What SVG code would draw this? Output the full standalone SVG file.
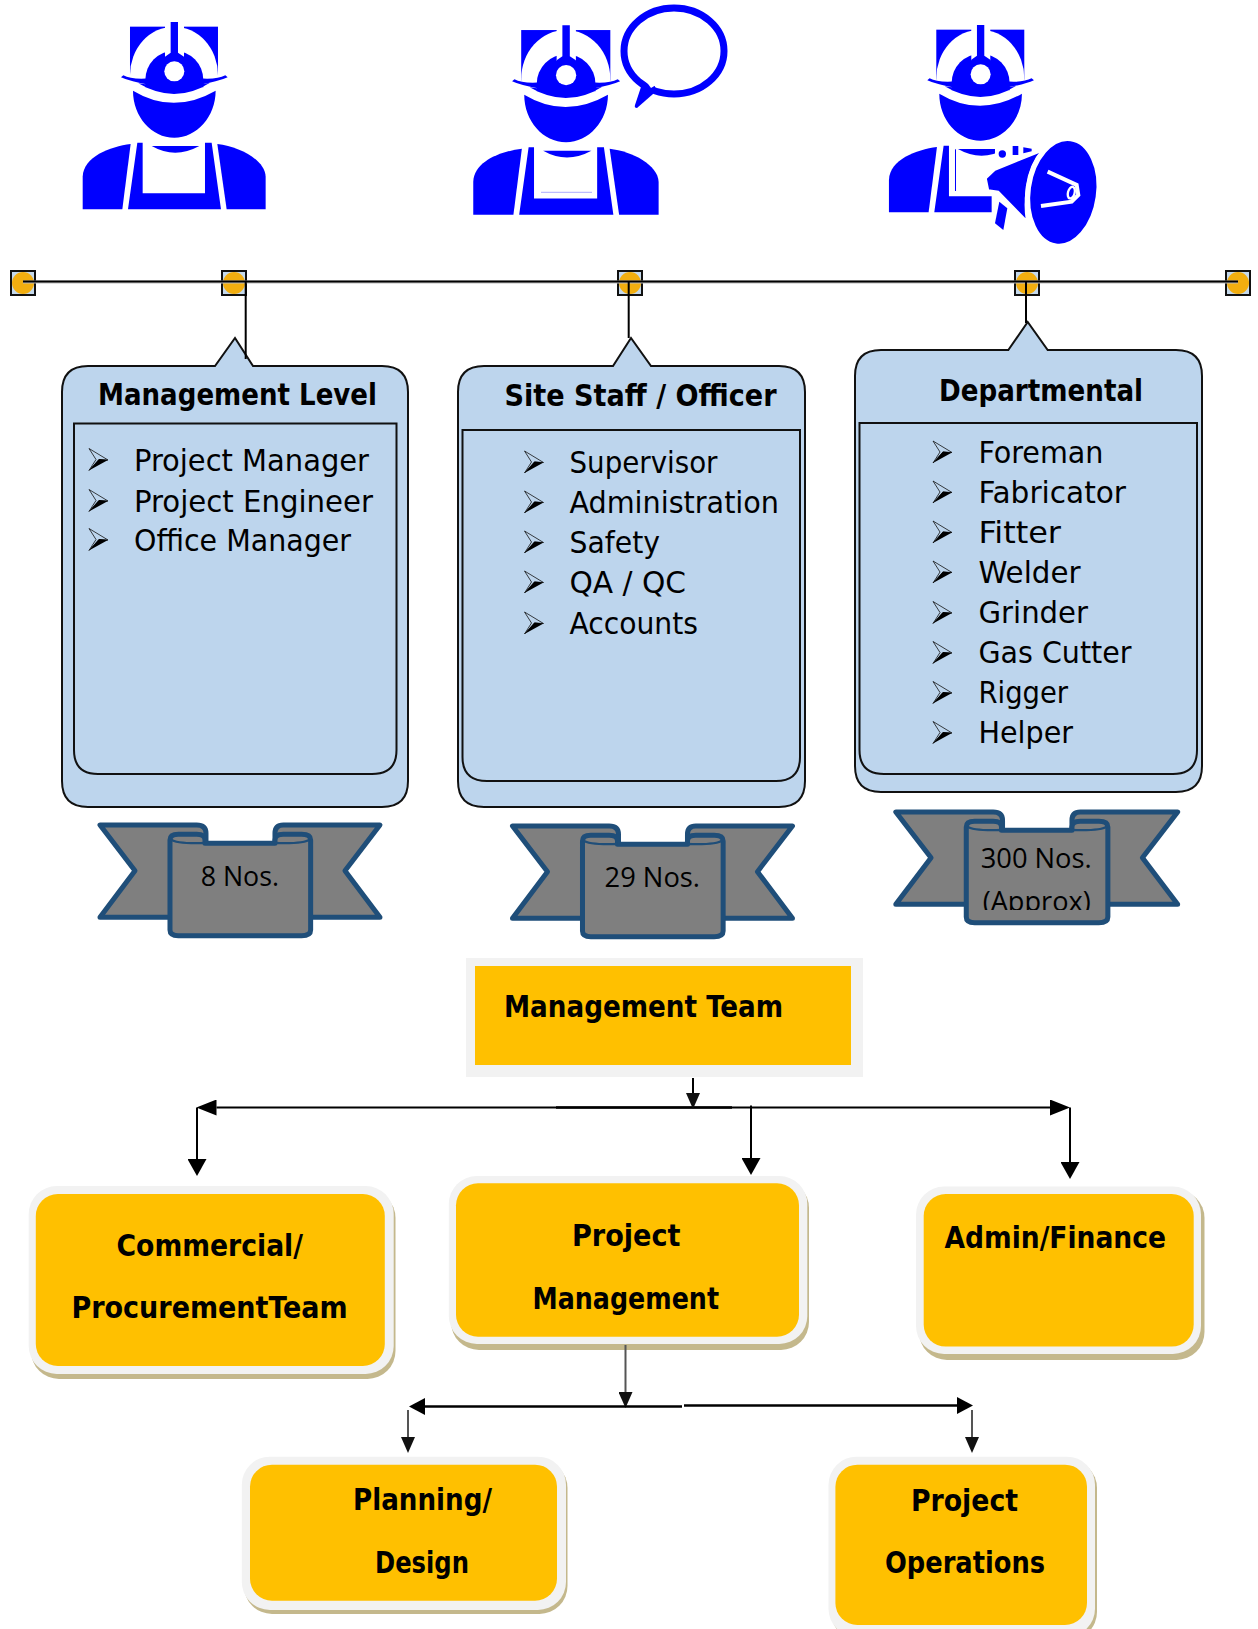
<svg xmlns="http://www.w3.org/2000/svg" xmlns:xlink="http://www.w3.org/1999/xlink" width="1258" height="1629" viewBox="0 0 1258 1629">
<style>
text{font-family:"DejaVu Sans","Noto Sans",sans-serif;font-stretch:condensed;fill:#000}
.t{font-size:30px;font-weight:700}
.b{font-size:30px}
.r{font-family:"Open Sans","Liberation Sans",sans-serif;font-size:28px;font-stretch:normal}
.blue{fill:#0000ff}
.wh{fill:#fff}
.call{fill:#bdd5ed;stroke:#111;stroke-width:2}
.rib{fill:#7f7f7f;stroke:#1f4e79;stroke-width:15;stroke-linejoin:round}
.sq{fill:#c5d9ec;stroke:#111;stroke-width:2}
.dot{fill:#f2ae10}
.outer{fill:#f2f2f2}
.shadow{fill:#c4b88c}
.inner{fill:#ffc000}
.ln{fill:none;stroke:#000;stroke-width:2}
.gl{fill:none;stroke:#555;stroke-width:2}
</style>
<defs>
<marker id="mh" markerUnits="userSpaceOnUse" markerWidth="20" markerHeight="16" refX="0" refY="8" orient="auto-start-reverse"><path d="M0,0L20,8L0,16Z"/></marker>
<marker id="mv" markerUnits="userSpaceOnUse" markerWidth="17" markerHeight="19" refX="0" refY="9.5" orient="auto"><path d="M0,0L17,9.5L0,19Z"/></marker>
<marker id="ms" markerUnits="userSpaceOnUse" markerWidth="16" markerHeight="14" refX="0" refY="7" orient="auto"><path d="M0,0L16,7L0,14Z" fill="#111"/></marker>
<marker id="mh2" markerUnits="userSpaceOnUse" markerWidth="16" markerHeight="17" refX="0" refY="8.5" orient="auto-start-reverse"><path d="M0,0L16,8.5L0,17Z"/></marker>
<g id="worker">
<rect class="blue" x="210" y="80" width="264" height="150"/>
<path class="wh" d="M210,225A132,145 0 0 1 474,225V236H210Z"/>
<path class="blue" d="M256,240A87,88 0 0 1 430,240V262H256Z"/>
<path class="wh" d="M315,66H372V172H315Z"/>
<path class="blue" d="M332,66H354V158L372,170V190H315V170L332,158Z"/>
<path class="blue" d="M272,225H414V255L450,248Q345,315 235,250L272,255Z"/>
<path class="blue" d="M183,232L190,226Q215,240 272,235V255Q210,245 183,232Z"/>
<path class="blue" d="M503,232L496,226Q470,240 414,235V255Q475,245 503,232Z"/>
<circle class="wh" cx="343" cy="214" r="30"/>
<path class="blue" d="M219,272Q340,345 467,272C467,350 410,413 343,413C275,413 219,350 219,272Z"/>
<path class="blue" d="M275,438H418Q345,478 275,438Z"/>
<path class="blue" d="M68,628V530C70,470 150,440 212,432L187,628Z"/>
<path class="blue" d="M232,428H248V580H435V428H455L483,628H204Z"/>
<path class="blue" d="M472,432C540,440 615,480 617,530V628H500Z"/>
</g>
<g id="bul"><path d="M0,0L19,11.500L10,11L0,22L7,11Z" fill="#fff" fill-opacity="0" stroke="#111" stroke-width="0.8"/><path d="M0,22L19,11.500L10,10.500Z" fill="#000"/></g>
<g id="ribbon">
<path class="rib" d="M150,135H440Q468,135 468,160V412H150L255,272Z"/>
<path class="rib" d="M990,135H700Q675,135 675,160V412H990L885,272Z"/>
<path class="rib" d="M360,180Q360,163 385,163H440Q465,163 465,180V190H675V180Q675,163 700,163H755Q782,163 782,180V450Q782,467 755,467H385Q360,467 360,450Z"/>
<path class="rib" style="fill:none;stroke-width:7" d="M362,178Q380,192 465,189M780,178Q762,192 675,189"/>
</g>
<clipPath id="clip3"><rect x="960" y="850" width="150" height="60"/></clipPath>
</defs>

<g id="worker-1"><use href="#worker" transform="translate(60,0) scale(.3333)"/></g>

<g id="worker-2">
<use href="#worker" transform="translate(450.300,3.100) scale(.3376,.3369)"/>
<path d="M541,192.300H592" stroke="#aaaaff" fill="none"/>
<ellipse cx="674" cy="51" rx="50" ry="43" fill="none" stroke="#0000ff" stroke-width="7"/>
<path class="blue" d="M642,84L635,105Q634,108 637,108L653,94L655,86Z"/>
<path class="wh" d="M646,81L651,88L656,85L650,79Z"/>
</g>

<g id="worker-3">
<use href="#worker" transform="translate(866.300,3) scale(.3333)"/>
<g transform="translate(860,0) scale(.3333)">
<rect class="wh" x="405" y="420" width="340" height="225"/>
<rect class="wh" x="395" y="490" width="30" height="150"/>
<rect class="blue" x="285" y="448" width="3" height="125"/>
<circle class="blue" cx="427" cy="462" r="11"/>
<rect class="blue" x="458" y="438" width="17" height="27"/>
<path class="blue" d="M490,442L515,446V454L490,460Z"/>
<path class="blue" d="M405,670L418,605L442,625L430,690Z"/>
<path class="blue" stroke="#fff" stroke-width="5" d="M548,452L405,510L378,535L385,570L415,575L500,662C490,600 500,500 548,452Z"/>
<ellipse cx="610" cy="577" rx="106" ry="163" transform="rotate(8 610 577)" class="blue" stroke="#fff" stroke-width="16"/>
<path d="M563,515L650,555L655,585L635,605L543,618" fill="none" stroke="#fff" stroke-width="12"/>
<ellipse cx="634" cy="578" rx="10" ry="18" fill="#0000ff" stroke="#fff" stroke-width="7" transform="rotate(15 634 578)"/>
</g>
</g>

<g id="timeline-markers">
<g><rect class="sq" x="11" y="271" width="24" height="24"/><circle class="dot" cx="23" cy="283" r="11"/></g>
<g><rect class="sq" x="222" y="271" width="24" height="24"/><circle class="dot" cx="234" cy="283" r="11"/></g>
<g><rect class="sq" x="618" y="271" width="24" height="24"/><circle class="dot" cx="630" cy="283" r="11"/></g>
<g><rect class="sq" x="1015" y="271" width="24" height="24"/><circle class="dot" cx="1027" cy="283" r="11"/></g>
<g><rect class="sq" x="1226" y="271" width="24" height="24"/><circle class="dot" cx="1238" cy="283" r="11"/></g>
</g>

<g id="management-level">
<path class="call" d="M88,366H215L235,338L253,366H382Q408,366 408,392V781Q408,807 382,807H88Q62,807 62,781V392Q62,366 88,366Z"/>
<path class="call" d="M74,423.500H396.500V750Q396.500,774 372,774H98Q74,774 74,750Z"/>
<text class="t" x="98" y="405" textLength="279" lengthAdjust="spacingAndGlyphs">Management Level</text>
<use href="#bul" x="89" y="448.500"/><text class="b" x="134" y="470.700" textLength="235" lengthAdjust="spacingAndGlyphs">Project Manager</text>
<use href="#bul" x="89" y="489.500"/><text class="b" x="134" y="511.700" textLength="239" lengthAdjust="spacingAndGlyphs">Project Engineer</text>
<use href="#bul" x="89" y="528.500"/><text class="b" x="134" y="550.700" textLength="217" lengthAdjust="spacingAndGlyphs">Office Manager</text>
</g>

<g id="site-staff">
<path class="call" d="M484,366H613L631,338L651,366H779Q805,366 805,392V781Q805,807 779,807H484Q458,807 458,781V392Q458,366 484,366Z"/>
<path class="call" d="M462.500,430H800V757Q800,781 776,781H487Q462.500,781 462.500,757Z"/>
<text class="t" x="504.500" y="406" textLength="272" lengthAdjust="spacingAndGlyphs">Site Staff / Officer</text>
<use href="#bul" x="524.500" y="451"/><text class="b" x="569.500" y="473" textLength="148" lengthAdjust="spacingAndGlyphs">Supervisor</text>
<use href="#bul" x="524.500" y="491"/><text class="b" x="569.500" y="513" textLength="209.500" lengthAdjust="spacingAndGlyphs">Administration</text>
<use href="#bul" x="524.500" y="531"/><text class="b" x="569.500" y="553" textLength="90.500" lengthAdjust="spacingAndGlyphs">Safety</text>
<use href="#bul" x="524.500" y="571"/><text class="b" x="569.500" y="593" textLength="116.500" lengthAdjust="spacingAndGlyphs">QA / QC</text>
<use href="#bul" x="524.500" y="612"/><text class="b" x="569.500" y="634" textLength="128.500" lengthAdjust="spacingAndGlyphs">Accounts</text>
</g>

<g id="departmental">
<path class="call" d="M881,350H1008.300L1027.700,322L1047.700,350H1176Q1202,350 1202,376V766Q1202,792 1176,792H881Q855,792 855,766V376Q855,350 881,350Z"/>
<path class="call" d="M859.500,423H1197V750Q1197,774 1173,774H884Q859.500,774 859.500,750Z"/>
<text class="t" x="939" y="401" textLength="204" lengthAdjust="spacingAndGlyphs">Departmental</text>
<use href="#bul" x="933" y="441"/><text class="b" x="978.500" y="462.500" textLength="125" lengthAdjust="spacingAndGlyphs">Foreman</text>
<use href="#bul" x="933" y="481"/><text class="b" x="978.500" y="502.500" textLength="147.500" lengthAdjust="spacingAndGlyphs">Fabricator</text>
<use href="#bul" x="933" y="521"/><text class="b" x="978.500" y="542.500" textLength="82.500" lengthAdjust="spacingAndGlyphs">Fitter</text>
<use href="#bul" x="933" y="561"/><text class="b" x="978.500" y="582.500" textLength="102" lengthAdjust="spacingAndGlyphs">Welder</text>
<use href="#bul" x="933" y="601.500"/><text class="b" x="978.500" y="623" textLength="109.500" lengthAdjust="spacingAndGlyphs">Grinder</text>
<use href="#bul" x="933" y="641.500"/><text class="b" x="978.500" y="663" textLength="153" lengthAdjust="spacingAndGlyphs">Gas Cutter</text>
<use href="#bul" x="933" y="681.500"/><text class="b" x="978.500" y="703" textLength="89.500" lengthAdjust="spacingAndGlyphs">Rigger</text>
<use href="#bul" x="933" y="721.500"/><text class="b" x="978.500" y="743" textLength="94.500" lengthAdjust="spacingAndGlyphs">Helper</text>
</g>

<g id="ribbon-8">
<use href="#ribbon" transform="translate(50,780) scale(.3333)"/>
<text class="r" x="200.700" y="885.700" textLength="78.300" lengthAdjust="spacingAndGlyphs">8 Nos.</text>
</g>
<g id="ribbon-29">
<use href="#ribbon" transform="translate(462.500,781) scale(.3333)"/>
<text class="r" x="604.600" y="887" textLength="95.400" lengthAdjust="spacingAndGlyphs">29 Nos.</text>
</g>
<g id="ribbon-300">
<use href="#ribbon" transform="translate(845.500,767) scale(.3355,.3333)"/>
<text class="r" x="980.700" y="868.300" textLength="111" lengthAdjust="spacingAndGlyphs">300 Nos.</text>
<g clip-path="url(#clip3)"><text class="r" x="982.700" y="911" textLength="108" lengthAdjust="spacingAndGlyphs">(Approx)</text></g>
</g>

<g id="management-team">
<rect class="outer" x="466" y="958" width="397" height="119"/>
<rect class="inner" x="475" y="966" width="376" height="99"/>
<text class="t" x="504" y="1016.500" textLength="279" lengthAdjust="spacingAndGlyphs">Management Team</text>
</g>

<g id="commercial">
<rect class="shadow" x="31" y="1190" width="364.500" height="189" rx="28"/>
<rect class="outer" x="28.700" y="1186" width="365" height="188" rx="28"/>
<rect class="inner" x="35.800" y="1194" width="349" height="172" rx="22"/>
<text class="t" x="116.500" y="1256" textLength="186.500" lengthAdjust="spacingAndGlyphs">Commercial/</text>
<text class="t" x="71.500" y="1318" textLength="276" lengthAdjust="spacingAndGlyphs">ProcurementTeam</text>
</g>
<g id="project-management">
<rect class="shadow" x="451" y="1180" width="358" height="170" rx="28"/>
<rect class="outer" x="448.800" y="1176" width="358.500" height="168" rx="28"/>
<rect class="inner" x="456" y="1183.300" width="343" height="153.400" rx="22"/>
<text class="t" x="572" y="1245.500" textLength="108.500" lengthAdjust="spacingAndGlyphs">Project</text>
<text class="t" x="532.500" y="1308.500" textLength="186.500" lengthAdjust="spacingAndGlyphs">Management</text>
</g>
<g id="admin-finance">
<rect class="shadow" x="919" y="1190" width="285.500" height="170" rx="28"/>
<rect class="outer" x="916" y="1186.600" width="285" height="167.400" rx="28"/>
<rect class="inner" x="923.700" y="1194" width="270" height="152.600" rx="22"/>
<text class="t" x="944.500" y="1248" textLength="221.500" lengthAdjust="spacingAndGlyphs">Admin/Finance</text>
</g>
<g id="planning-design">
<rect class="shadow" x="244" y="1460" width="323.500" height="154" rx="28"/>
<rect class="outer" x="241.800" y="1456.700" width="324.200" height="153.300" rx="28"/>
<rect class="inner" x="250" y="1464.700" width="307" height="136" rx="22"/>
<text class="t" x="353" y="1510" textLength="139" lengthAdjust="spacingAndGlyphs">Planning/</text>
<text class="t" x="375" y="1572.700" textLength="94" lengthAdjust="spacingAndGlyphs">Design</text>
</g>
<g id="project-operations">
<rect class="shadow" x="831" y="1460" width="266" height="180" rx="28"/>
<rect class="outer" x="828.500" y="1456.700" width="266.500" height="180" rx="28"/>
<rect class="inner" x="835.400" y="1464.700" width="251.600" height="160.300" rx="22"/>
<text class="t" x="911" y="1511" textLength="107" lengthAdjust="spacingAndGlyphs">Project</text>
<text class="t" x="885" y="1573.300" textLength="160" lengthAdjust="spacingAndGlyphs">Operations</text>
</g>

<g id="connectors">
<path d="M23,282H1238" fill="none" stroke="#bbb" stroke-width="3"/>
<path class="ln" d="M23,281.500H1238"/>
<path class="ln" d="M245.700,281.500V359M628.700,281.500V338M1026,281.500V323"/>
<path class="ln" d="M216.500,1107.500H1050" marker-start="url(#mh)" marker-end="url(#mh)"/>
<path class="ln" style="stroke-width:2.500" d="M556,1107.500H732"/>
<path class="ln" d="M197,1107.500V1159" marker-end="url(#mv)"/>
<path class="ln" d="M751,1105.500V1158" marker-end="url(#mv)"/>
<path class="ln" d="M1070,1107.500V1162" marker-end="url(#mv)"/>
<path class="ln" d="M693,1078V1093" marker-end="url(#ms)"/>
<path class="gl" d="M625.500,1345V1392" marker-end="url(#ms)"/>
<path class="ln" style="stroke-width:2.500" d="M425,1406.500H682" marker-start="url(#mh2)"/>
<path class="ln" style="stroke-width:2.500" d="M684,1405.500H957" marker-end="url(#mh2)"/>
<path class="gl" d="M408,1410V1437" marker-end="url(#ms)"/>
<path class="gl" d="M972,1410V1437" marker-end="url(#ms)"/>
</g>
</svg>
